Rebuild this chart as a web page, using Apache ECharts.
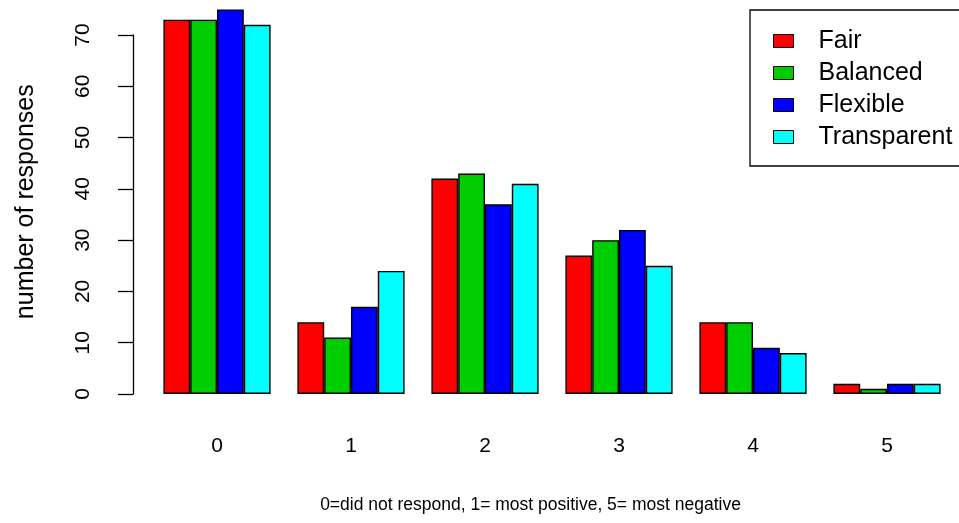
<!DOCTYPE html>
<html>
<head>
<meta charset="utf-8">
<script src="https://cdn.jsdelivr.net/npm/echarts@6/dist/echarts.min.js"></script>
<style>
html,body{margin:0;padding:0;background:#fff;}
#chart{width:959px;height:523px;}
</style>
</head>
<body>
<div id="chart"></div>
<script>
var categories = ['0', '1', '2', '3', '4', '5'];
var seriesNames = ['Fair', 'Balanced', 'Flexible', 'Transparent'];
var fair = [73, 14, 42, 27, 14, 2];
var balanced = [73, 11, 43, 30, 14, 1];
var flexible = [75, 17, 37, 32, 9, 2];
var transparent = [72, 24, 41, 25, 8, 2];
var yTicks = [0, 10, 20, 30, 40, 50, 60, 70];
var colors = ['#FF0000', '#00CD00', '#0000FF', '#00FFFF'];
var xTitle = '0=did not respond, 1= most positive, 5= most negative';
var yTitle = 'number of responses';

var FONT = '"Liberation Sans", Arial, Helvetica, sans-serif';
var values = [fair, balanced, flexible, transparent];

var chart = echarts.init(document.getElementById('chart'), null, {renderer: 'canvas'});

var series = seriesNames.map(function (name, i) {
  return {
    name: name,
    type: 'bar',
    xAxisIndex: 0,
    yAxisIndex: 0,
    data: values[i],
    barGap: '0%',
    barCategoryGap: '20%',
    itemStyle: {color: colors[i], borderColor: '#000', borderWidth: 1.4}
  };
});

var option = {
  animation: false,
  backgroundColor: '#fff',
  textStyle: {fontFamily: FONT},
  grid: [
    {left: 150, right: 5, top: 9.4, bottom: 129},
    {left: 133, right: 15, top: 35, bottom: 129}
  ],
  xAxis: [
    {
      type: 'category', gridIndex: 0, data: categories,
      axisLine: {show: false}, axisTick: {show: false},
      axisLabel: {fontSize: 21, color: '#000', margin: 42, fontFamily: FONT}
    },
    {
      type: 'value', gridIndex: 1, min: 0, max: 1,
      axisLine: {show: false}, axisTick: {show: false}, axisLabel: {show: false}, splitLine: {show: false},
      name: xTitle, nameLocation: 'middle', nameGap: 102,
      nameTextStyle: {fontSize: 17.5, color: '#000', fontFamily: FONT, padding: [0, 16, 0, 0]}
    }
  ],
  yAxis: [
    {
      type: 'value', gridIndex: 0, min: 0, max: 75,
      axisLine: {show: false}, axisTick: {show: false}, axisLabel: {show: false}, splitLine: {show: false},
      name: yTitle, nameLocation: 'middle', nameGap: 111,
      nameTextStyle: {fontSize: 25, color: '#000', fontFamily: FONT}
    },
    {
      type: 'value', gridIndex: 1, min: yTicks[0], max: yTicks[yTicks.length - 1], interval: 10,
      axisLine: {show: true, lineStyle: {color: '#000', width: 1.3}},
      axisTick: {show: true, length: 15, lineStyle: {color: '#000', width: 1.3}},
      axisLabel: {rotate: 90, fontSize: 21, color: '#000', margin: 39, fontFamily: FONT},
      splitLine: {show: false}
    }
  ],
  legend: {
    data: seriesNames,
    orient: 'vertical',
    left: 750, top: 10,
    padding: [15, 40, 13, 23],
    itemGap: 0,
    itemWidth: 20, itemHeight: 13,
    borderColor: '#000', borderWidth: 1.3,
    icon: 'rect',
    itemStyle: {borderColor: '#000', borderWidth: 1},
    textStyle: {fontSize: 25, color: '#000', lineHeight: 32, padding: [0, 0, 0, 20], fontFamily: FONT}
  },
  series: series
};
chart.setOption(option);
</script>
</body>
</html>
